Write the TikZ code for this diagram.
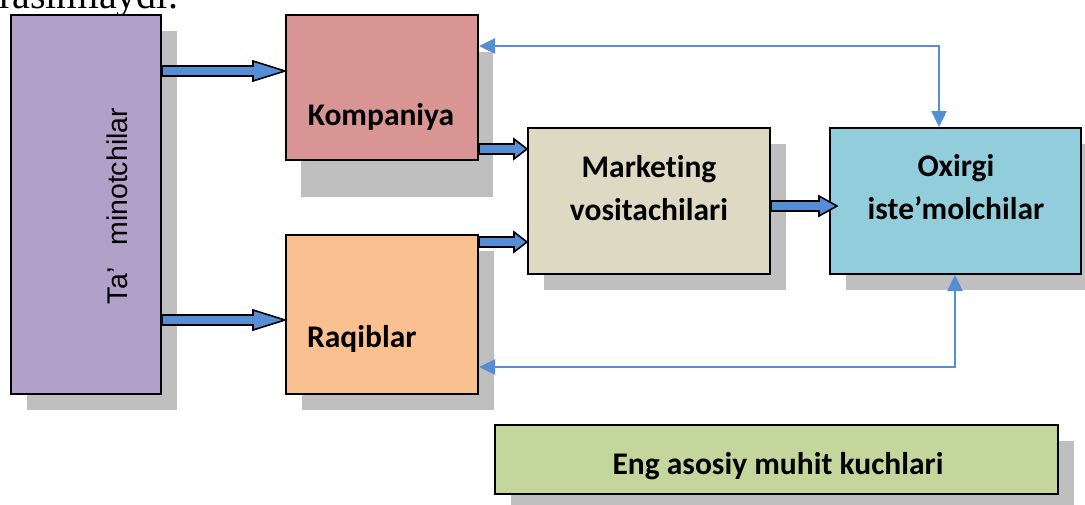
\documentclass[tikz,border=0pt]{standalone}
\usepackage{fontspec}
\newfontfamily\lblfont[Ligatures=NoCommon]{Carlito}
\newfontfamily\sidefont{Liberation Sans}
\newfontfamily\bodyfont{Liberation Serif}
\usetikzlibrary{calc,arrows.meta,shadows}

\definecolor{supcol}{HTML}{B1A0C7}
\definecolor{komcol}{HTML}{D99594}
\definecolor{rqcol}{HTML}{FAC090}
\definecolor{mkcol}{HTML}{DDD9C3}
\definecolor{oxcol}{HTML}{92CDDC}
\definecolor{engcol}{HTML}{C3D69B}
\definecolor{shadowgray}{HTML}{BFBFBF}
\definecolor{flowblue}{HTML}{558ED5}

% horizontal block arrow: start coordinate, end coordinate, head length
\newcommand\BlockArr[3]{%
  \draw[blockarrow] ($(#1)+(0,5)$) -- ($(#2)+(-#3,5)$) -- ($(#2)+(-#3,10)$)
    -- (#2) -- ($(#2)+(-#3,-10)$) -- ($(#2)+(-#3,-5)$) -- ($(#1)+(0,-5)$) -- cycle;}

\begin{document}
\begin{tikzpicture}[x=1pt,y=-1pt,
  box/.style={draw=black, line width=2pt, inner sep=0pt, rectangle},
  shade16/.style={drop shadow={shadow xshift=16pt, shadow yshift=-16pt,
      opacity=1, fill=shadowgray}},
  blockarrow/.style={draw=black, line width=1.6pt, fill=flowblue, line join=miter},
  thinflow/.style={draw=flowblue, line width=2.4pt,
      {Triangle[length=16pt,width=15pt]}-{Triangle[length=16pt,width=15pt]}},
  lbl/.style={font=\lblfont\bfseries\fontsize{31.5}{43}\selectfont, inner sep=0pt}]

\useasboundingbox (0,0) rectangle (1085,504);

% running text of the page above the figure
\node[font=\bodyfont\fontsize{40}{48}\selectfont, anchor=base west, inner sep=0pt]
  (pagetext) at (-1,8) {rasimlaydi.};

% boxes
\node[box, shade16, fill=supcol, minimum width=150, minimum height=379] (sup) at (86,204.5) {};
\node[box, fill=komcol, minimum width=192, minimum height=145,
  drop shadow={shadow xshift=15pt, shadow yshift=-37pt, opacity=1, fill=shadowgray}]
  (kom) at (382,87.5) {};
\node[box, shade16, fill=rqcol, minimum width=192, minimum height=159] (rq) at (382,314.5) {};
\node[box, shade16, fill=mkcol, minimum width=242, minimum height=146] (mk) at (649,201) {};
\node[box, shade16, fill=oxcol, minimum width=251, minimum height=146] (ox) at (955.5,201) {};
\node[box, shade16, fill=engcol, minimum width=563, minimum height=69] (eng) at (776.5,459.5) {};

% labels
\node[font=\sidefont\fontsize{28.5}{34}\selectfont, rotate=90, anchor=base, inner sep=0pt]
  (supt) at (127,206) {Ta’\hspace{22pt}minotchilar};
\node[lbl, anchor=base] (komt) at (381,125) {Kompaniya};
\node[lbl, anchor=base west] (rqt) at (307,347) {Raqiblar};
\node[lbl, anchor=base] (mkt1) at (649,177) {Marketing};
\node[lbl, anchor=base] (mkt2) at (649,220) {vositachilari};
\node[lbl, anchor=base] (oxt1) at (956,176) {Oxirgi};
\node[lbl, anchor=base] (oxt2) at (956,219) {iste’molchilar};
\node[lbl, anchor=base] (engt) at (778,474) {Eng asosiy muhit kuchlari};

% block arrow end points
\coordinate (a1s) at ($(sup.north east)+(0,57)$);
\coordinate (a1e) at (kom.west |- a1s);
\coordinate (a2s) at ($(sup.north east)+(0,306)$);
\coordinate (a2e) at (rq.west |- a2s);
\coordinate (a3s) at ($(kom.north east)+(0,135)$);
\coordinate (a3e) at (mk.west |- a3s);
\coordinate (a4s) at ($(rq.north east)+(0,8)$);
\coordinate (a4e) at (mk.west |- a4s);
\coordinate (a5s) at ($(mk.north east)+(0,79)$);
\coordinate (a5e) at ($(ox.west |- a5s)+(8,0)$);

\BlockArr{a1s}{a1e}{32}
\BlockArr{a2s}{a2e}{32}
\BlockArr{a3s}{a3e}{13}
\BlockArr{a4s}{a4e}{13}
\BlockArr{a5s}{a5e}{18}

% feedback lines
\coordinate (t1) at ($(kom.north east)+(0,32)$);
\coordinate (t2) at ($(ox.north west)+(110,0)$);
\draw[thinflow] (t1) -| (t2);
\coordinate (b1) at ($(rq.north east)+(0,133)$);
\coordinate (b2) at ($(ox.south west)+(126,0)$);
\draw[thinflow] (b1) -| (b2);

\end{tikzpicture}
\end{document}
